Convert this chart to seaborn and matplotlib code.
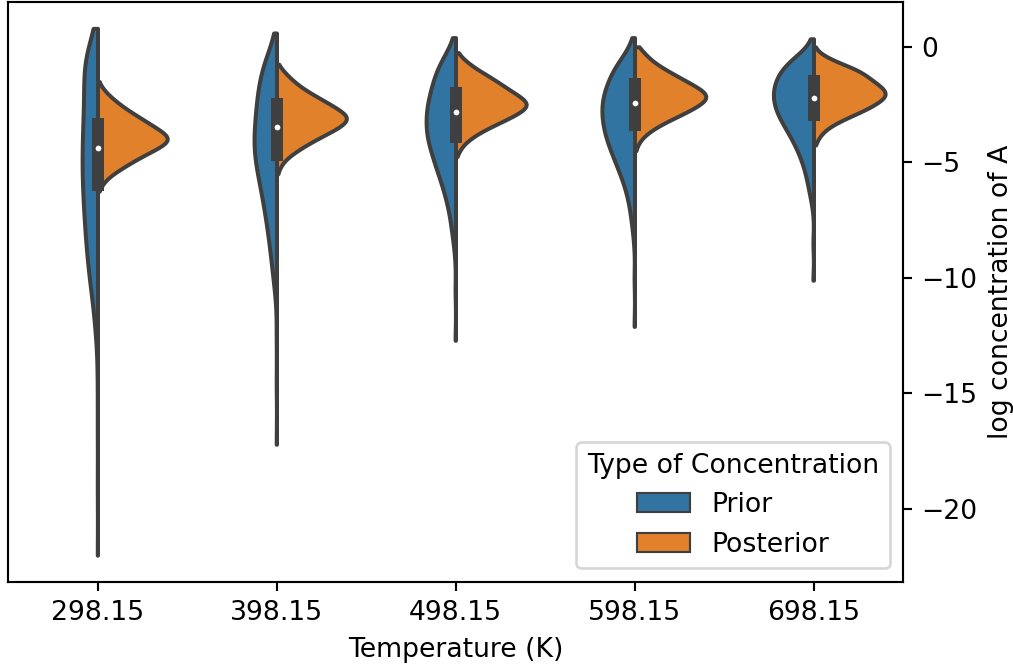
import matplotlib
matplotlib.use("Agg")
import matplotlib.pyplot as plt
import numpy as np
import pandas as pd
import seaborn as sns

temperatures = ["298.15", "398.15", "498.15", "598.15", "698.15"]

# prior: counts per 0.5 bin, from the top bin down, plus a few extreme samples
prior_step = 0.5
prior_top = [0.5, 0.5, 0.0, 0.0, 0.0]
prior_298 = [3, 13, 15, 15, 14, 14, 14, 15, 15, 16, 16, 16, 16, 16, 15, 14, 14, 13, 12,
             11, 10, 9, 7, 5, 4, 3, 2, 1]
prior_398 = [1, 6, 12, 16, 18, 20, 21, 22, 23, 24, 24, 22, 20, 17, 15, 13, 11, 9, 8,
             6, 5, 4, 2, 1]
prior_498 = [5, 13, 19, 22, 25, 28, 29, 29, 28, 24, 21, 17, 13, 10, 7, 5, 4, 2, 1]
prior_598 = [5, 15, 24, 29, 34, 36, 36, 34, 31, 26, 21, 16, 11, 8, 5, 4, 2, 1]
prior_698 = [4, 19, 29, 34, 36, 35, 31, 25, 19, 14, 10, 7, 5, 3, 1]
prior_tails = [[0.8, -14.5, -16.5, -19.0, -22.0],
               [0.6, -12.5, -14.5, -17.2],
               [0.4, -10.5, -12.7],
               [0.4, -10.0, -12.1],
               [0.35, -8.5, -10.1]]

# posterior: counts per 0.25 bin, from the top bin down
post_step = 0.25
post_top = [-1.5, -0.75, -0.25, 0.0, 0.0]
post_298 = [1, 4, 9, 15, 22, 30, 39, 48, 57, 66, 72, 65, 54, 43, 33, 24, 15, 8, 4, 1]
post_398 = [1, 6, 11, 17, 24, 33, 43, 53, 62, 71, 69, 61, 50, 39, 29, 20, 12, 6, 3, 1]
post_498 = [2, 7, 14, 22, 32, 41, 49, 58, 67, 73, 67, 57, 45, 33, 22, 14, 7, 4, 1]
post_598 = [4, 9, 14, 21, 30, 40, 50, 60, 69, 70, 63, 53, 42, 30, 20, 12, 6, 3, 1]
post_698 = [1, 5, 15, 28, 43, 51, 58, 66, 71, 68, 59, 49, 36, 24, 14, 8, 4, 2]

# inner box (both types together)
box_upper = [-3.1, -2.23, -1.72, -1.37, -1.22]
box_median = [-4.4, -3.45, -2.80, -2.44, -2.23]
box_lower = [-6.25, -4.96, -4.17, -3.66, -3.23]


def expand(top, step, counts):
    vals = []
    for i, c in enumerate(counts):
        vals += [top - step * i] * c
    return vals


prior_counts = [prior_298, prior_398, prior_498, prior_598, prior_698]
post_counts = [post_298, post_398, post_498, post_598, post_698]

rows = []
for k, t in enumerate(temperatures):
    for v in expand(prior_top[k], prior_step, prior_counts[k]) + prior_tails[k]:
        rows.append((t, v, "Prior"))
    for v in expand(post_top[k], post_step, post_counts[k]):
        rows.append((t, v, "Posterior"))
df = pd.DataFrame(rows, columns=["Temperature (K)", "log concentration of A",
                                 "Type of Concentration"])

gray = "#3f3f3f"
dpi = 192
fig = plt.figure(figsize=(1013 / dpi, 667 / dpi), dpi=dpi)
ax = fig.add_axes([8 / 1013, 1 - 581.5 / 667, 895 / 1013, 579.5 / 667])

sns.violinplot(data=df, x="Temperature (K)", y="log concentration of A",
               hue="Type of Concentration", split=True, inner=None,
               cut=0, bw_method=0.25, common_norm=True,
               linewidth=1.5, linecolor=gray, ax=ax)

pos = np.arange(len(temperatures))
ax.vlines(pos, box_lower, box_upper, colors=gray, linewidth=4.5,
          capstyle="butt", zorder=3)
ax.scatter(pos, box_median, s=10, color="white", edgecolor=gray,
           linewidth=1, zorder=4)
ax.set_xlim(-0.5, len(temperatures) - 0.5)

ax.yaxis.tick_right()
ax.yaxis.set_label_position("right")
leg = ax.legend(loc="lower right", title="Type of Concentration")
for h in leg.legend_handles:
    h.set_linewidth(0.8)

fig.savefig("out.png", dpi=dpi)
